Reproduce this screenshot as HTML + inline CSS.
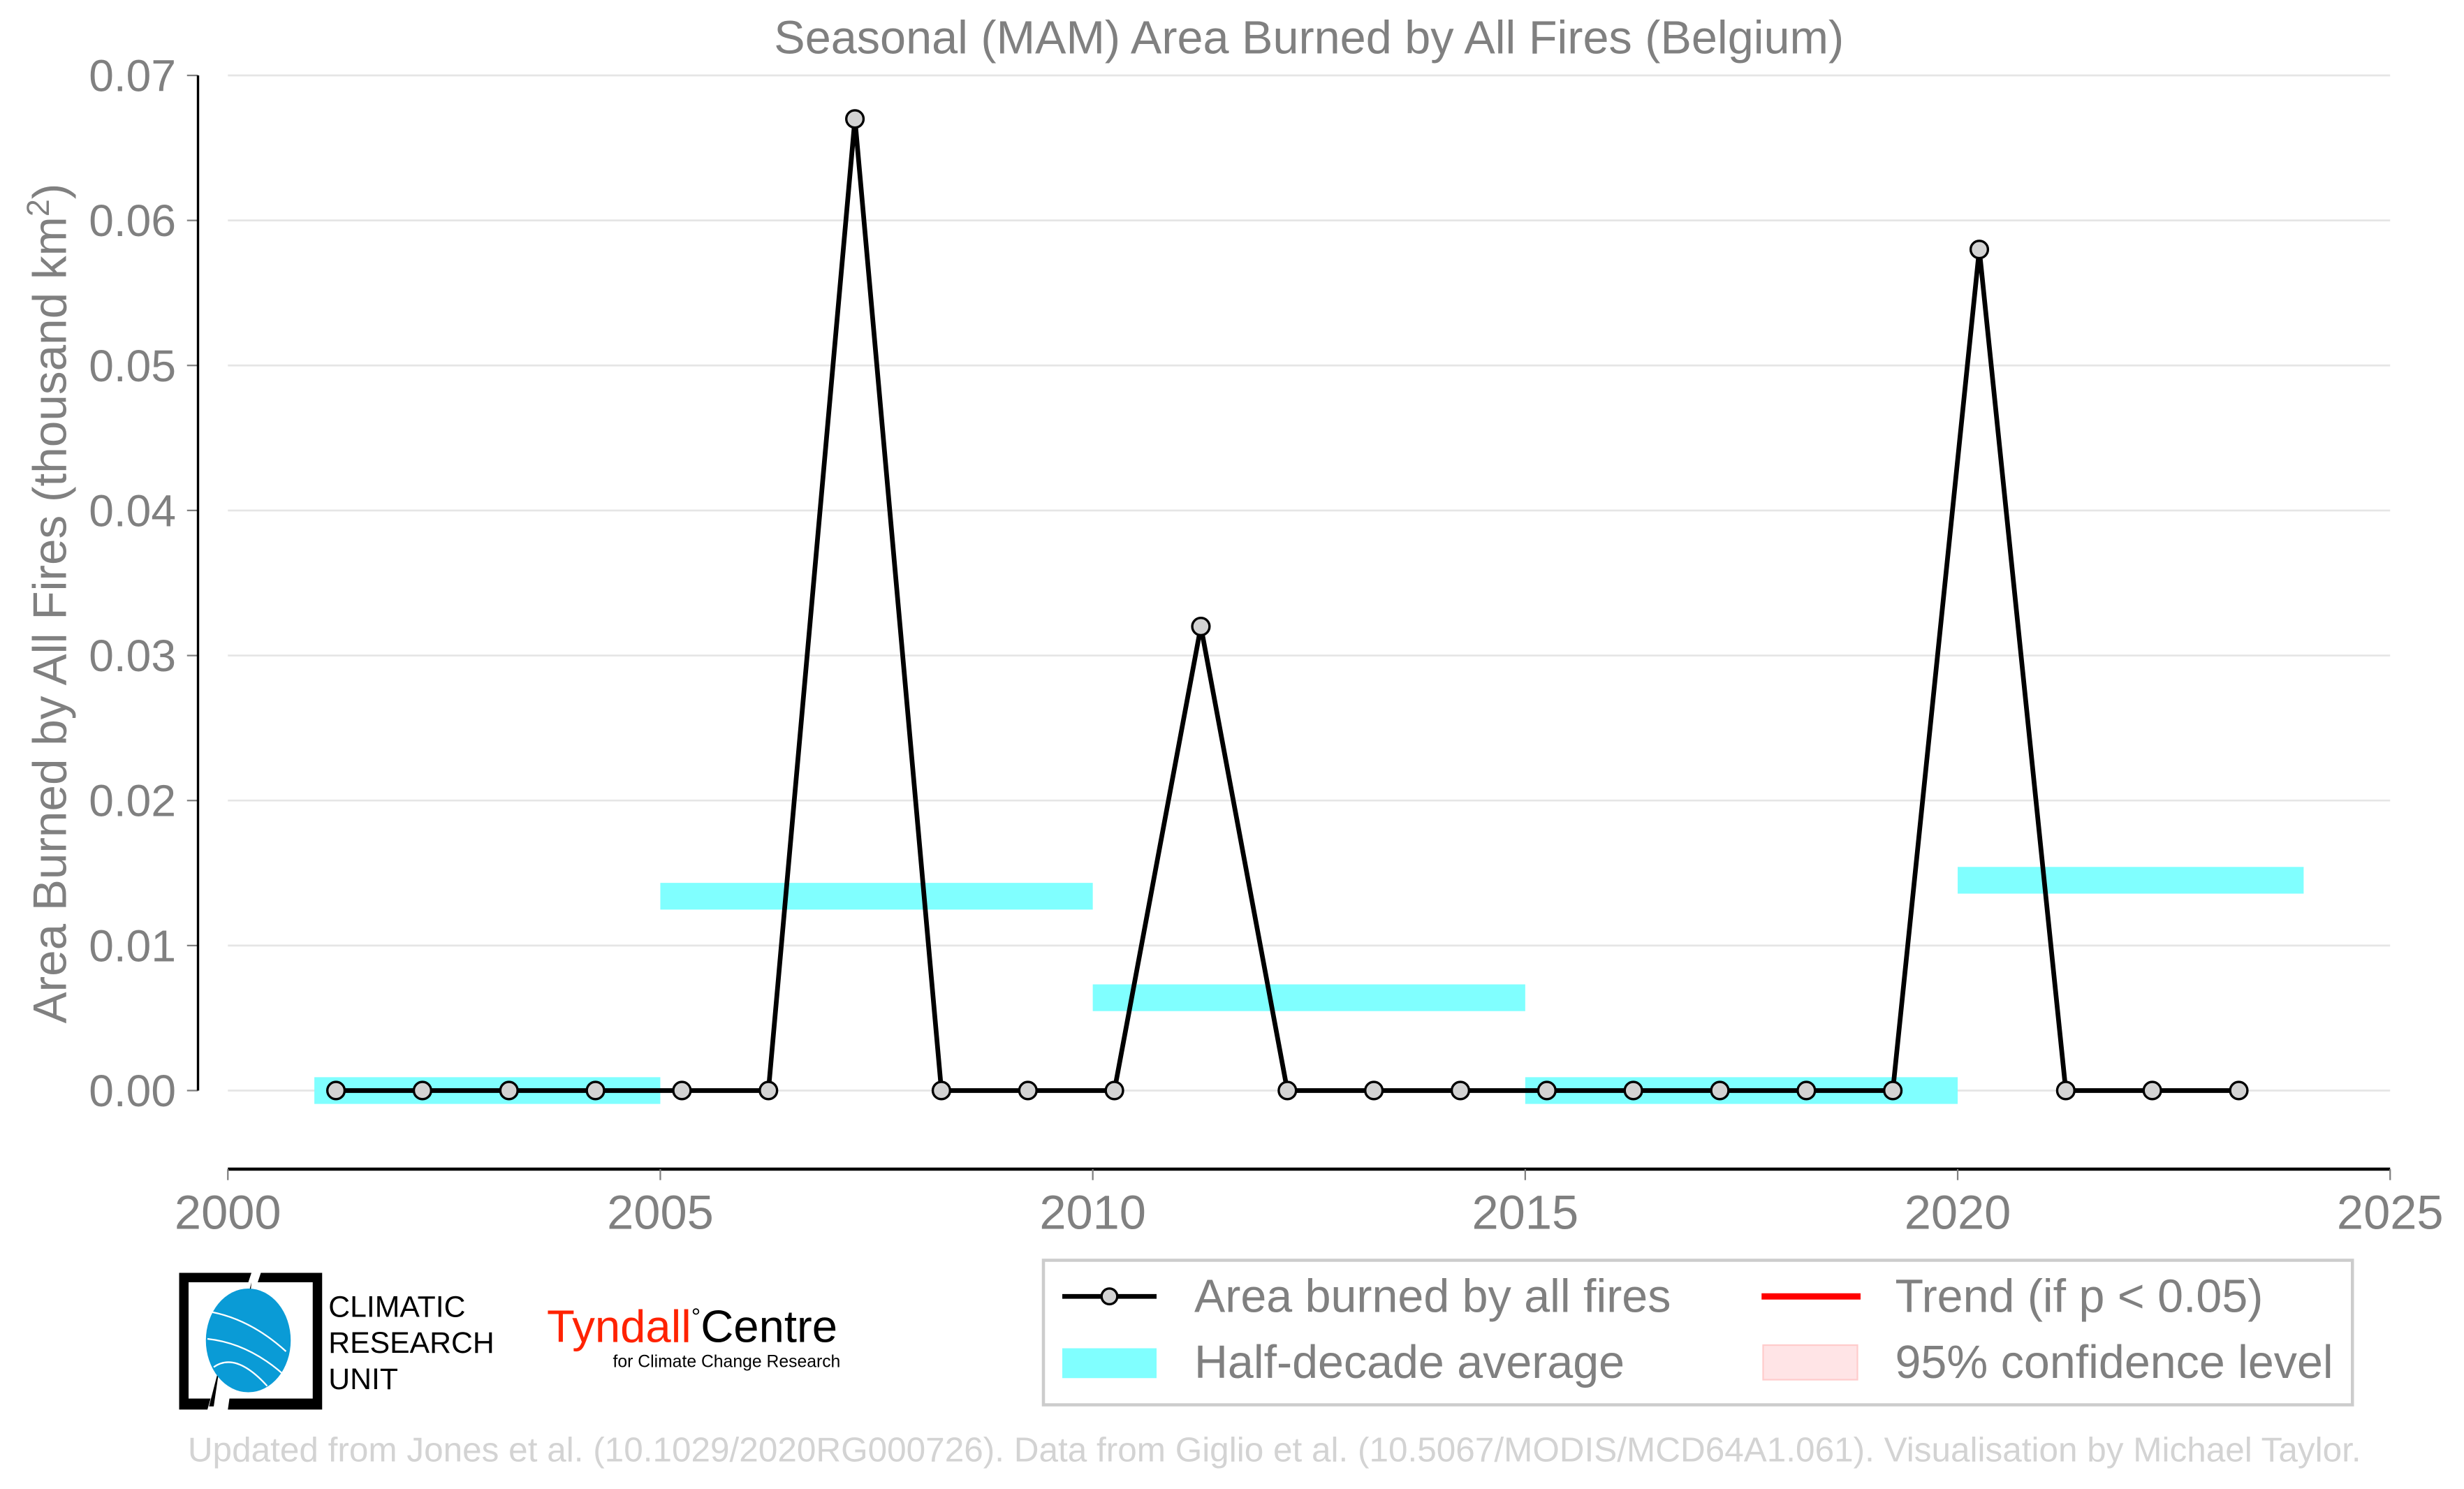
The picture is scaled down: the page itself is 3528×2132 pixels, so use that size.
<!DOCTYPE html>
<html><head><meta charset="utf-8"><style>
html,body{margin:0;padding:0;background:#fff}
svg{display:block;font-family:"Liberation Sans",Arial,sans-serif}
</style></head><body>
<svg id="chart" width="3528" height="2132" viewBox="0 0 1568 947.56" xmlns="http://www.w3.org/2000/svg">
<rect width="1568" height="947.56" fill="#fff"/>
<text x="833" y="34" text-anchor="middle" font-size="29.6" fill="#808080">Seasonal (MAM) Area Burned by All Fires (Belgium)</text>
<g id="grid"></g>
<g id="bands"></g>
<g id="series"></g>
<g id="axes"></g>
<text transform="translate(42,384) rotate(-90)" text-anchor="middle" font-size="30" fill="#808080">Area Burned by All Fires (thousand km<tspan dy="-11" font-size="20">2</tspan><tspan dy="11">)</tspan></text>

<g>
<rect x="664" y="802" width="833" height="92" fill="#fff" stroke="#cccccc" stroke-width="2"/>
<g>
<line x1="676" y1="825" x2="736" y2="825" stroke="#000" stroke-width="3"/>
<circle cx="706" cy="825" r="5" fill="#d3d3d3" stroke="#000" stroke-width="1.5"/>
<text x="760" y="835" font-size="29.5" fill="#808080">Area burned by all fires</text></g>
<g>
<rect x="676" y="858" width="60" height="19" fill="#80ffff"/>
<text x="760" y="877" font-size="29.5" fill="#808080">Half-decade average</text></g>
<g>
<line x1="1121" y1="825" x2="1184" y2="825" stroke="#ff0000" stroke-width="4"/>
<text x="1206" y="835" font-size="29.5" fill="#808080">Trend (if p &lt; 0.05)</text></g>
<g>
<rect x="1122" y="856" width="60" height="22" fill="#ffe4e6" stroke="#ffcccc" stroke-width="1"/>
<text x="1206" y="877" font-size="29.5" fill="#808080">95% confidence level</text></g>
</g>

<g>
<path d="M114,810 H160 L158,816 H120 V890 H134 L132,897 H114 Z" fill="#000"/>
<path d="M205,810 H166 L164,816 H199 V890 H146 L145,897 H205 Z" fill="#000"/>
<path d="M160,816 L158,840 L154,840 Z M140,868 L136,895 L133,895 Z" fill="#000"/>
<ellipse cx="158" cy="853" rx="27" ry="33" fill="#0a9bd6"/>
<path d="M135,835 Q160,840 182,860 M132,852 Q160,855 184,878 M136,870 Q150,860 170,882" stroke="#fff" stroke-width="1" fill="none"/>
<text x="209" y="838" font-size="19" fill="#000">CLIMATIC</text>
<text x="209" y="861" font-size="19" fill="#000">RESEARCH</text>
<text x="209" y="884" font-size="19" fill="#000">UNIT</text>
</g>
<g>
<text x="348" y="854" font-size="29" fill="#ff2200">Tyndall<tspan fill="#000" dy="-11" font-size="15">°</tspan><tspan fill="#000" dy="11" font-size="29">Centre</tspan></text>
<text x="390" y="870" font-size="11" fill="#000">for Climate Change Research</text>
</g>
<text x="811" y="930" text-anchor="middle" font-size="22" fill="#d3d3d3">Updated from Jones et al. (10.1029/2020RG000726). Data from Giglio et al. (10.5067/MODIS/MCD64A1.061). Visualisation by Michael Taylor.</text>
</svg>
<script>
const years = [2001,2002,2003,2004,2005,2006,2007,2008,2009,2010,2011,2012,2013,2014,2015,2016,2017,2018,2019,2020,2021,2022,2023];
const burned = [0,0,0,0,0,0,0.067,0,0,0,0.032,0,0,0,0,0,0,0,0,0.058,0,0,0];
const bandStart = [2001,2005,2010,2015,2020];
const bandEnd = [2005,2010,2015,2020,2024];
const bandValue = [0,0.0134,0.0064,0,0.0145];
const yTicks = [0,0.01,0.02,0.03,0.04,0.05,0.06,0.07];
const yTickLabels = ["0.00","0.01","0.02","0.03","0.04","0.05","0.06","0.07"];
const xTicks = [2000,2005,2010,2015,2020,2025];

const NS = "http://www.w3.org/2000/svg";
const X = v => 145 + (v - 2000) * (1521 - 145) / 25;
const Y = v => 694 - v * (694 - 48) / 0.07;
function mk(tag, attrs, parent){const e=document.createElementNS(NS,tag);for(const k in attrs)e.setAttribute(k,attrs[k]);parent.appendChild(e);return e;}
const grid=document.getElementById('grid'),bands=document.getElementById('bands'),series=document.getElementById('series'),axes=document.getElementById('axes');

yTicks.forEach((t,i)=>{
  const g=mk('line',{x1:145,x2:1521,y1:Y(t),y2:Y(t),stroke:'#e5e5e5','stroke-width':1.2},grid);
  
  
  const tk=mk('line',{x1:119,x2:126,y1:Y(t),y2:Y(t),stroke:'#808080','stroke-width':1},axes);
  
  
  const lb=mk('text',{x:112,y:Y(t)+10,'text-anchor':'end','font-size':28.5,fill:'#808080'},axes);
  lb.textContent=yTickLabels[i];
  
  
});
const ya=mk('line',{x1:126,x2:126,y1:Y(0.07),y2:Y(0),stroke:'#000','stroke-width':1.5},axes);


const xa=mk('line',{x1:145,x2:1521,y1:744,y2:744,stroke:'#000','stroke-width':2},axes);


xTicks.forEach(t=>{
  const tk=mk('line',{x1:X(t),x2:X(t),y1:744,y2:751,stroke:'#808080','stroke-width':1},axes);
  
  
  const lb=mk('text',{x:X(t),y:782,'text-anchor':'middle','font-size':30.5,fill:'#808080'},axes);
  lb.textContent=String(t);
  
  
});
bandValue.forEach((v,i)=>{
  const r=mk('rect',{x:X(bandStart[i]),y:Y(v)-8.5,width:X(bandEnd[i])-X(bandStart[i]),height:17,fill:'#80ffff'},bands);
  
  
});
const pts=years.map((y,i)=>X(y+0.25)+','+Y(burned[i])).join(' ');
const pl=mk('polyline',{points:pts,fill:'none',stroke:'#000','stroke-width':3,'stroke-linejoin':'miter'},series);


years.forEach((y,i)=>{
  const c=mk('circle',{cx:X(y+0.25),cy:Y(burned[i]),r:5.5,fill:'#d3d3d3',stroke:'#000','stroke-width':1.5},series);
  
  
});
</script>
</body></html>
